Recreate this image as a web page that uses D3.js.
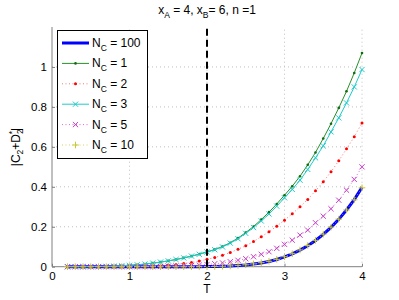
<!DOCTYPE html>
<html>
<head>
<meta charset="utf-8">
<script src="https://cdn.jsdelivr.net/npm/d3@7"></script>
<style>
html,body{margin:0;padding:0;background:#fff;}
svg{display:block;font-family:"Liberation Sans",Arial,sans-serif;}
</style>
</head>
<body>
<svg id="chart" width="399" height="300"></svg>
<script>
// T sample points 0.2 .. 4.0
const T = [0.2,0.3,0.4,0.5,0.6,0.7,0.8,0.9,1.0,1.1,1.2,1.3,1.4,1.5,1.6,1.7,1.8,1.9,2.0,2.1,2.2,2.3,2.4,2.5,2.6,2.7,2.8,2.9,3.0,3.1,3.2,3.3,3.4,3.5,3.6,3.7,3.8,3.9,4.0];
const nc100 = [0,0,0,0,0,0,0,0,0,0,0,0,0,0,0,0.0001,0.0002,0.0003,0.0005,0.001,0.002,0.0035,0.006,0.009,0.013,0.019,0.026,0.036,0.049,0.064,0.083,0.105,0.131,0.162,0.197,0.237,0.284,0.336,0.397];
const nc1 = [0,0,0.0001,0.0004,0.0008,0.0016,0.0028,0.0045,0.0068,0.0095,0.013,0.018,0.023,0.029,0.036,0.044,0.053,0.063,0.074,0.086,0.101,0.12,0.143,0.171,0.201,0.236,0.273,0.314,0.358,0.403,0.453,0.51,0.572,0.642,0.716,0.795,0.878,0.97,1.07];
const nc2 = [0,0,0,0,0,0,0,0,0.0005,0.001,0.002,0.003,0.005,0.008,0.011,0.016,0.021,0.028,0.037,0.046,0.057,0.071,0.087,0.105,0.126,0.15,0.175,0.203,0.233,0.265,0.30,0.337,0.38,0.425,0.475,0.53,0.59,0.65,0.72];
const nc3 = [0,0,0.0001,0.0004,0.0008,0.0016,0.0028,0.0045,0.0067,0.0094,0.013,0.018,0.023,0.029,0.036,0.044,0.053,0.062,0.073,0.085,0.099,0.118,0.14,0.167,0.196,0.229,0.264,0.303,0.345,0.387,0.433,0.487,0.545,0.605,0.675,0.745,0.82,0.90,0.987];
const nc5 = [0,0,0,0,0,0,0,0,0,0,0,0.0005,0.001,0.002,0.003,0.004,0.006,0.008,0.011,0.015,0.019,0.025,0.032,0.040,0.05,0.062,0.075,0.092,0.112,0.133,0.158,0.183,0.22,0.253,0.29,0.333,0.383,0.437,0.50];
const nc10 = [0,0,0,0,0,0,0,0,0,0,0,0,0,0,0,0.0001,0.0002,0.0004,0.0006,0.0012,0.0022,0.004,0.0065,0.0095,0.014,0.02,0.027,0.037,0.05,0.065,0.084,0.106,0.132,0.163,0.198,0.238,0.284,0.335,0.395];
const seriesNames = ["N_C = 100","N_C = 1","N_C = 2","N_C = 3","N_C = 5","N_C = 10"];
const xTicks = [0,1,2,3,4];
const yTicks = [0,0.2,0.4,0.6,0.8,1];
const yTickLabels = ["0","0.2","0.4","0.6","0.8","1"];
const markerT = 2;

const series = [
  {name: seriesNames[0], values: nc100, color:"#0000ff", lw:3, dash:null, marker:null},
  {name: seriesNames[1], values: nc1, color:"#2a8f2a", lw:1, dash:null, marker:"dot", mcolor:"#0d6e0d"},
  {name: seriesNames[2], values: nc2, color:"#ff5050", lw:0.8, dash:"1,2.5", marker:"bigdot", mcolor:"#ff0000"},
  {name: seriesNames[3], values: nc3, color:"#1ecbcb", lw:1, dash:null, marker:"x", mcolor:"#1ecbcb"},
  {name: seriesNames[4], values: nc5, color:"#d040d0", lw:0.8, dash:"1,2.5", marker:"x", mcolor:"#c83cc8"},
  {name: seriesNames[5], values: nc10, color:"#c8c832", lw:0.8, dash:"1,2.5", marker:"+", mcolor:"#c8c832"}
];

const svg = d3.select("#chart");
const L = 52, R = 362, TOP = 27, B = 266.7;
const x = d3.scaleLinear().domain([0,4]).range([L,R]);
const y = d3.scaleLinear().domain([0,1.2]).range([B,TOP]);

// grid
const grid = svg.append("g");
grid.selectAll("line.gx").data(xTicks.slice(1)).enter().append("line")
  .attr("x1",d=>x(d)).attr("x2",d=>x(d)).attr("y1",B).attr("y2",TOP)
  .attr("stroke","#b0b0b0").attr("stroke-width",0.8).attr("stroke-dasharray","1,3");
grid.selectAll("line.gy").data(yTicks.slice(1)).enter().append("line")
  .attr("x1",L).attr("x2",R).attr("y1",d=>y(d)).attr("y2",d=>y(d))
  .attr("stroke","#b0b0b0").attr("stroke-width",0.8).attr("stroke-dasharray","1,3");

// axes
const xAxis = d3.axisBottom(x).tickValues(xTicks).tickSizeInner(-3).tickSizeOuter(0).tickPadding(5).tickFormat(d3.format("d"));
const gx = svg.append("g").attr("transform",`translate(0,${B})`).call(xAxis);
const yAxis = d3.axisLeft(y).tickValues(yTicks).tickSizeInner(-3).tickSizeOuter(0).tickPadding(5).tickFormat((d,i)=>yTickLabels[i]);
const gy = svg.append("g").attr("transform",`translate(${L},0)`).call(yAxis);
[gx,gy].forEach(g=>{
  g.select(".domain").attr("stroke","#808080").attr("stroke-width",1);
  g.selectAll(".tick line").attr("stroke","#808080");
  g.selectAll(".tick text").attr("fill","#000").attr("font-size","11.5px").attr("font-family","Liberation Sans, Arial, sans-serif");
});
gy.select(".domain").attr("d",`M0,${B}V${TOP}`);
gx.select(".domain").attr("d",`M${L},0H${R}`);

// series
const line = vals => d3.line().x((d,i)=>x(T[i])).y(d=>y(d))(vals);
function drawMarker(g, type, cx, cy, color){
  if(type==="dot"){
    g.append("circle").attr("cx",cx).attr("cy",cy).attr("r",1.3).attr("fill",color);
  } else if(type==="bigdot"){
    g.append("circle").attr("cx",cx).attr("cy",cy).attr("r",1.5).attr("fill",color);
  } else if(type==="x"){
    const s=2.6;
    g.append("path").attr("d",`M${cx-s},${cy-s}L${cx+s},${cy+s}M${cx-s},${cy+s}L${cx+s},${cy-s}`)
      .attr("stroke",color).attr("stroke-width",1).attr("fill","none");
  } else if(type==="+"){
    const s=3.3;
    g.append("path").attr("d",`M${cx-s},${cy}L${cx+s},${cy}M${cx},${cy-s}L${cx},${cy+s}`)
      .attr("stroke",color).attr("stroke-width",1).attr("fill","none");
  }
}
series.forEach(s=>{
  const g = svg.append("g");
  g.append("path").attr("d",line(s.values)).attr("fill","none")
    .attr("stroke",s.color).attr("stroke-width",s.lw)
    .attr("stroke-dasharray",s.dash);
  if(s.marker){
    s.values.forEach((v,i)=>drawMarker(g,s.marker,x(T[i]),y(v),s.mcolor));
  }
});

// dashed vertical at T=2
svg.append("line").attr("x1",x(markerT)).attr("x2",x(markerT)).attr("y1",B).attr("y2",TOP)
  .attr("stroke","#000").attr("stroke-width",2).attr("stroke-dasharray","7,4");

// title
const title = svg.append("text").attr("x",207).attr("y",14).attr("text-anchor","middle")
  .attr("font-size","12px").attr("fill","#000");
title.append("tspan").text("x");
title.append("tspan").attr("dy",4).attr("font-size","8.5px").text("A");
title.append("tspan").attr("dy",-4).text(" = 4, x");
title.append("tspan").attr("dy",4).attr("font-size","8.5px").text("B");
title.append("tspan").attr("dy",-4).text("= 6, n =1");

// x label
svg.append("text").attr("x",207).attr("y",293).attr("text-anchor","middle").attr("font-size","12px").text("T");

// y label
const yl = svg.append("text").attr("transform","translate(20,147) rotate(-90)").attr("text-anchor","middle").attr("font-size","12px");
yl.append("tspan").text("|C");
yl.append("tspan").attr("dy",3).attr("font-size","8.5px").text("2");
yl.append("tspan").attr("dy",-3).text("+D");
yl.append("tspan").attr("dy",3).attr("font-size","8.5px").text("2");
yl.append("tspan").attr("dy",-8).attr("dx",-5).attr("font-size","8.5px").text("*");
yl.append("tspan").attr("dy",5).text("|");

// legend
const lg = svg.append("g");
lg.append("rect").attr("x",57.5).attr("y",30.5).attr("width",90).attr("height",128)
  .attr("fill","#fff").attr("stroke","#000").attr("stroke-width",1);
const rowY = d3.scalePoint().domain(seriesNames).range([43,145]);
series.forEach(s=>{
  const cy = rowY(s.name);
  lg.append("line").attr("x1",62).attr("x2",89).attr("y1",cy).attr("y2",cy)
    .attr("stroke",s.color).attr("stroke-width",s.lw).attr("stroke-dasharray",s.dash);
  if(s.marker) drawMarker(lg,s.marker,75.5,cy,s.mcolor);
  const parts = s.name.split("_");
  const t = lg.append("text").attr("x",92).attr("y",cy+4).attr("font-size","12px");
  t.append("tspan").text(parts[0]);
  t.append("tspan").attr("dy",4).attr("font-size","8.5px").text(parts[1][0]);
  t.append("tspan").attr("dy",-4).text(parts[1].slice(1));
});
</script>
</body>
</html>
